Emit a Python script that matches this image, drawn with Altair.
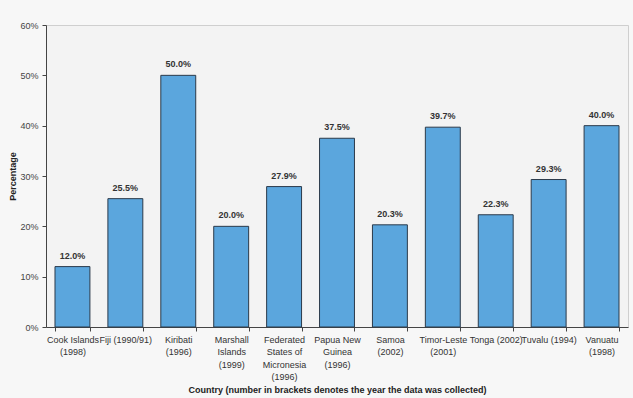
import altair as alt
import pandas as pd

countries = [
    "Cook Islands\n(1998)",
    "Fiji (1990/91)",
    "Kiribati\n(1996)",
    "Marshall\nIslands\n(1999)",
    "Federated\nStates of\nMicronesia\n(1996)",
    "Papua New\nGuinea\n(1996)",
    "Samoa\n(2002)",
    "Timor-Leste\n(2001)",
    "Tonga (2002)",
    "Tuvalu (1994)",
    "Vanuatu\n(1998)",
]
values = [12.0, 25.5, 50.0, 20.0, 27.9, 37.5, 20.3, 39.7, 22.3, 29.3, 40.0]
y_ticks = [0, 10, 20, 30, 40, 50, 60]

df = pd.DataFrame({"country": countries, "value": values})
df["label"] = [f"{v:.1f}%" for v in values]

FONT = "Liberation Sans, Arial, sans-serif"

x_enc = alt.X(
    "country:N",
    sort=countries,
    scale=alt.Scale(paddingInner=0.34, paddingOuter=0.17),
    axis=alt.Axis(
        title="Country (number in brackets denotes the year the data was collected)",
        titleFont=FONT,
        titleFontSize=9,
        titleFontWeight="bold",
        titleColor="#222222",
        titlePadding=4,
        labelExpr="datum.value ? split(datum.value, '\\n') : ''",
        labelAngle=0,
        labelFont=FONT,
        labelFontSize=9,
        labelColor="#333333",
        labelLineHeight=12.5,
        labelPadding=4,
        tickBand="extent",
        tickSize=4,
        tickColor="#444444",
        domainColor="#444444",
    ),
)
y_enc = alt.Y(
    "value:Q",
    scale=alt.Scale(domain=[0, 60]),
    axis=alt.Axis(
        title="Percentage",
        titleFont=FONT,
        titleFontSize=9,
        titleFontWeight="bold",
        titleColor="#222222",
        titleX=-29,
        values=y_ticks,
        labelExpr="datum.value + '%'",
        labelFont=FONT,
        labelFontSize=9,
        labelColor="#444444",
        labelPadding=4,
        tickSize=4,
        tickColor="#444444",
        domainColor="#444444",
        grid=False,
    ),
)

bars = alt.Chart(df).mark_bar(
    color="#5ba6dd", stroke="#2b3a4a", strokeWidth=1
).encode(x=x_enc, y=y_enc)

labels = alt.Chart(df).mark_text(
    baseline="bottom", dy=-6, font=FONT, fontSize=9, fontWeight="bold", color="#333333"
).encode(x=alt.X("country:N", sort=countries), y=alt.Y("value:Q"), text="label:N")

chart = (
    alt.layer(bars, labels)
    .properties(
        width=582,
        height=302,
        autosize=alt.AutoSizeParams(type="none"),
        padding={"left": 46, "top": 25, "right": 5, "bottom": 71},
        background="#f7f7f7",
    )
    .configure_view(stroke="#cfcfcf", strokeWidth=1, fill="#f3f3f3")
)

chart.save("out.html", embed_options={"renderer": "svg", "actions": False})
